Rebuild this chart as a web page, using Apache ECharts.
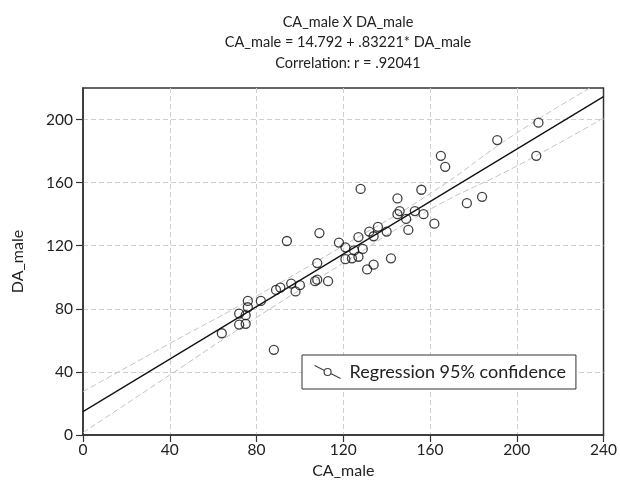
<!DOCTYPE html>
<html>
<head>
<meta charset="utf-8">
<script src="https://cdn.jsdelivr.net/npm/echarts@6/dist/echarts.min.js"></script>
<style>
  html, body { margin: 0; padding: 0; background: #fff; }
  #main { width: 620px; height: 489px; }
</style>
</head>
<body>
<div id="main"></div>
<script>
// observed points (CA_male, DA_male)
var caMale = [64, 72, 75, 72, 75, 76, 76, 82, 88, 89, 91, 94, 96, 98, 100, 107, 108, 108, 109, 113,
              118, 121, 121, 124, 125, 127, 127, 128, 129, 131, 132, 134, 134, 136, 140, 142, 145, 145, 146, 149,
              150, 153, 156, 157, 162, 165, 167, 177, 184, 191, 209, 210];
var daMale = [64.5, 70, 70.5, 77, 76, 81, 85, 85, 54, 92, 93.5, 123, 96, 91, 95, 97.5, 98.5, 109, 128, 97.5,
              122, 119, 111.5, 112, 117, 113, 125.5, 156, 118, 105, 129, 126, 108, 132, 129, 112, 150, 140, 142, 137,
              130, 142, 155.5, 140, 134, 177, 170, 147, 151, 187, 177, 198];

// regression line from the title: 14.792 + .83221 * x
var fitIntercept = 14.792;
var fitSlope = 0.83221;
var fitX = [0, 240];

// 95% confidence bands
var bandX = [0, 40, 80, 120, 160, 200, 240];
var bandUpper = [27.5, 58, 88, 120, 153, 191.5, 225];
var bandLower = [1.5, 38, 74.5, 109, 143, 170.5, 201];

var xTicks = [0, 40, 80, 120, 160, 200, 240];
var yTicks = [0, 40, 80, 120, 160, 200];

var fontName = 'Lato';
var myChart = echarts.init(document.getElementById('main'));

function pairs(xs, ys) {
    return xs.map(function (x, i) { return [x, ys[i]]; });
}

var gridDash = { color: '#cfcfcf', type: [5, 3], width: 1 };

var option = {
    animation: false,
    title: {
        text: 'CA_male X DA_male\nCA_male = 14.792 + .83221* DA_male\nCorrelation: r = .92041',
        left: 343,
        top: 7,
        textAlign: 'center',
        textStyle: {
            fontFamily: fontName,
            fontSize: 14.5,
            fontWeight: 'normal',
            lineHeight: 20.5,
            color: '#222'
        }
    },
    legend: {
        left: 302,
        top: 355,
        orient: 'horizontal',
        padding: [8, 10, 8, 12],
        itemWidth: 26,
        itemHeight: 13,
        itemGap: 8,
        borderColor: '#333',
        borderWidth: 1,
        borderRadius: 0,
        backgroundColor: '#fff',
        textStyle: { fontFamily: fontName, fontSize: 18, color: '#222', padding: [0, 0, 0, 4] },
        data: [{
            name: 'Regression 95% confidence',
            icon: 'path://M0,0 L9.87,4.93 M16.13,8.07 L26,13 M16.5,6.5 A3.5,3.5 0 1 1 9.5,6.5 A3.5,3.5 0 1 1 16.5,6.5 Z',
            itemStyle: { color: 'rgba(0,0,0,0)', borderColor: '#111', borderWidth: 1.2 }
        }]
    },
    grid: {
        left: 83,
        right: 16,
        top: 88,
        bottom: 54,
        show: true,
        borderColor: '#333',
        borderWidth: 1.5,
        backgroundColor: '#fff'
    },
    xAxis: {
        type: 'value',
        min: xTicks[0],
        max: xTicks[xTicks.length - 1],
        interval: 40,
        name: 'CA_male',
        nameLocation: 'middle',
        nameGap: 11,
        nameTextStyle: { fontFamily: fontName, fontSize: 16, color: '#222' },
        axisLine: { show: true, lineStyle: { color: '#333', width: 1.5 } },
        axisTick: { show: true, inside: false, length: 7, lineStyle: { color: '#333', width: 1.2 } },
        axisLabel: { fontFamily: fontName, fontSize: 15.5, color: '#222', margin: 7 },
        splitLine: { show: true, showMinLine: false, showMaxLine: false, lineStyle: gridDash }
    },
    yAxis: {
        type: 'value',
        min: yTicks[0],
        max: 220,
        interval: 40,
        name: 'DA_male',
        nameLocation: 'middle',
        nameGap: 57,
        nameTextStyle: { fontFamily: fontName, fontSize: 16, color: '#222' },
        axisLine: { show: true, lineStyle: { color: '#333', width: 1.5 } },
        axisTick: { show: true, inside: false, length: 7, lineStyle: { color: '#333', width: 1.2 } },
        axisLabel: { fontFamily: fontName, fontSize: 15.5, color: '#222', margin: 10, showMaxLabel: false },
        splitLine: { show: true, showMinLine: false, showMaxLine: false, lineStyle: gridDash }
    },
    series: [
        {
            name: 'upper',
            type: 'line',
            smooth: true,
            symbol: 'none',
            silent: true,
            lineStyle: { color: '#c4c4c4', width: 1, type: [6, 3] },
            data: pairs(bandX, bandUpper),
            z: 2
        },
        {
            name: 'lower',
            type: 'line',
            smooth: true,
            symbol: 'none',
            silent: true,
            lineStyle: { color: '#c4c4c4', width: 1, type: [6, 3] },
            data: pairs(bandX, bandLower),
            z: 2
        },
        {
            name: 'fit',
            type: 'line',
            symbol: 'none',
            silent: true,
            lineStyle: { color: '#111', width: 1.3 },
            data: fitX.map(function (x) { return [x, fitIntercept + fitSlope * x]; }),
            z: 3
        },
        {
            name: 'Regression 95% confidence',
            type: 'scatter',
            symbol: 'circle',
            symbolSize: 9,
            itemStyle: { color: 'rgba(0,0,0,0)', borderColor: '#111', borderWidth: 1.3 },
            data: pairs(caMale, daMale),
            z: 4
        }
    ]
};

myChart.setOption(option);
</script>
</body>
</html>
